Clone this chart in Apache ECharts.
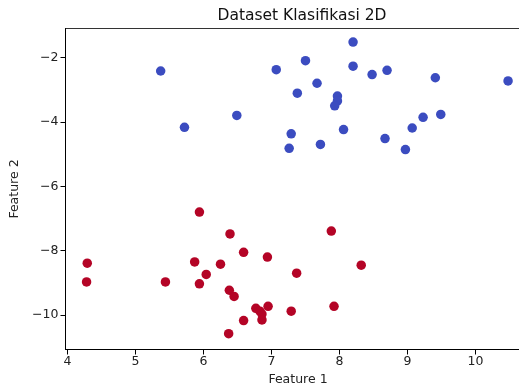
<!DOCTYPE html>
<html>
<head>
<meta charset="utf-8">
<script src="https://cdn.jsdelivr.net/npm/echarts@6/dist/echarts.min.js"></script>
<style>
  html, body { margin: 0; padding: 0; background: #fff; }
  #chart { width: 519px; height: 384px; }
</style>
</head>
<body>
<div id="chart"></div>
<script>
// kelas 0 (biru)
const class0X = [5.37, 5.72, 6.49, 7.07, 7.50, 7.38, 7.67, 7.29, 7.26, 7.72, 8.20, 8.20,
  7.97, 7.97, 7.93, 8.06, 8.48, 8.70, 8.67, 8.97, 9.07, 9.23, 9.41, 9.49, 10.48];
const class0Y = [-2.42, -4.17, -3.80, -2.38, -2.10, -3.11, -2.80, -4.37, -4.82, -4.70, -1.52, -2.27,
  -3.20, -3.35, -3.50, -4.24, -2.53, -2.40, -4.52, -4.86, -4.19, -3.86, -2.63, -3.77, -2.73];
// kelas 1 (merah)
const class1X = [5.94, 6.39, 6.59, 6.94, 7.88, 8.32, 4.29, 4.28, 5.44, 5.87, 5.94, 6.04,
  6.25, 7.37, 6.38, 6.45, 6.77, 6.95, 6.83, 6.86, 6.86, 7.29, 7.92, 6.59, 6.37];
const class1Y = [-6.80, -7.48, -8.05, -8.20, -7.39, -8.45, -8.39, -8.97, -8.97, -8.35, -9.03, -8.74,
  -8.42, -8.70, -9.23, -9.42, -9.79, -9.73, -9.88, -9.97, -10.15, -9.88, -9.73, -10.17, -10.58];
const xTicks = [4, 5, 6, 7, 8, 9, 10];
const yTicks = [-10, -8, -6, -4, -2];

const zip = (xs, ys) => xs.map((x, i) => [x, ys[i]]);

const chart = echarts.init(document.getElementById('chart'));
const font = 'DejaVu Sans';
const axisCommon = {
  axisLine: { show: true, onZero: false, lineStyle: { color: '#000', width: 1 } },
  axisTick: { show: true, length: 5, lineStyle: { color: '#000' } },
  axisLabel: { color: '#222', fontFamily: font, fontSize: 12.5 },
  splitLine: { show: false },
  nameLocation: 'middle',
  nameTextStyle: { color: '#222', fontFamily: font, fontSize: 12.5 }
};

chart.setOption({
  animation: false,
  backgroundColor: '#fff',
  title: {
    text: 'Dataset Klasifikasi 2D',
    left: 297, top: 3,
    textAlign: 'center',
    textStyle: { fontFamily: font, fontSize: 15.5, fontWeight: 'normal', color: '#111' }
  },
  grid: {
    left: 65.5, top: 28.5, width: 465, height: 321,
    outerBoundsMode: 'none',
    show: true, borderColor: '#333', borderWidth: 1, containLabel: false
  },
  xAxis: {
    ...axisCommon,
    type: 'value', min: 3.97, max: 10.81,
    name: 'Feature 1', nameGap: 23,
    axisTick: { ...axisCommon.axisTick, customValues: xTicks },
    axisLabel: { ...axisCommon.axisLabel, customValues: xTicks, margin: 6 }
  },
  yAxis: {
    ...axisCommon,
    type: 'value', min: -11.07, max: -1.1,
    name: 'Feature 2', nameGap: 44,
    axisTick: { ...axisCommon.axisTick, customValues: yTicks },
    axisLabel: { ...axisCommon.axisLabel, customValues: yTicks, margin: 7,
      formatter: v => String(v).replace('-', '\u2212') }
  },
  series: [
    { type: 'scatter', data: zip(class0X, class0Y), symbolSize: 9.5,
      itemStyle: { color: '#3b4cc0', opacity: 1 } },
    { type: 'scatter', data: zip(class1X, class1Y), symbolSize: 9.5,
      itemStyle: { color: '#b40426', opacity: 1 } }
  ]
});
</script>
</body>
</html>
